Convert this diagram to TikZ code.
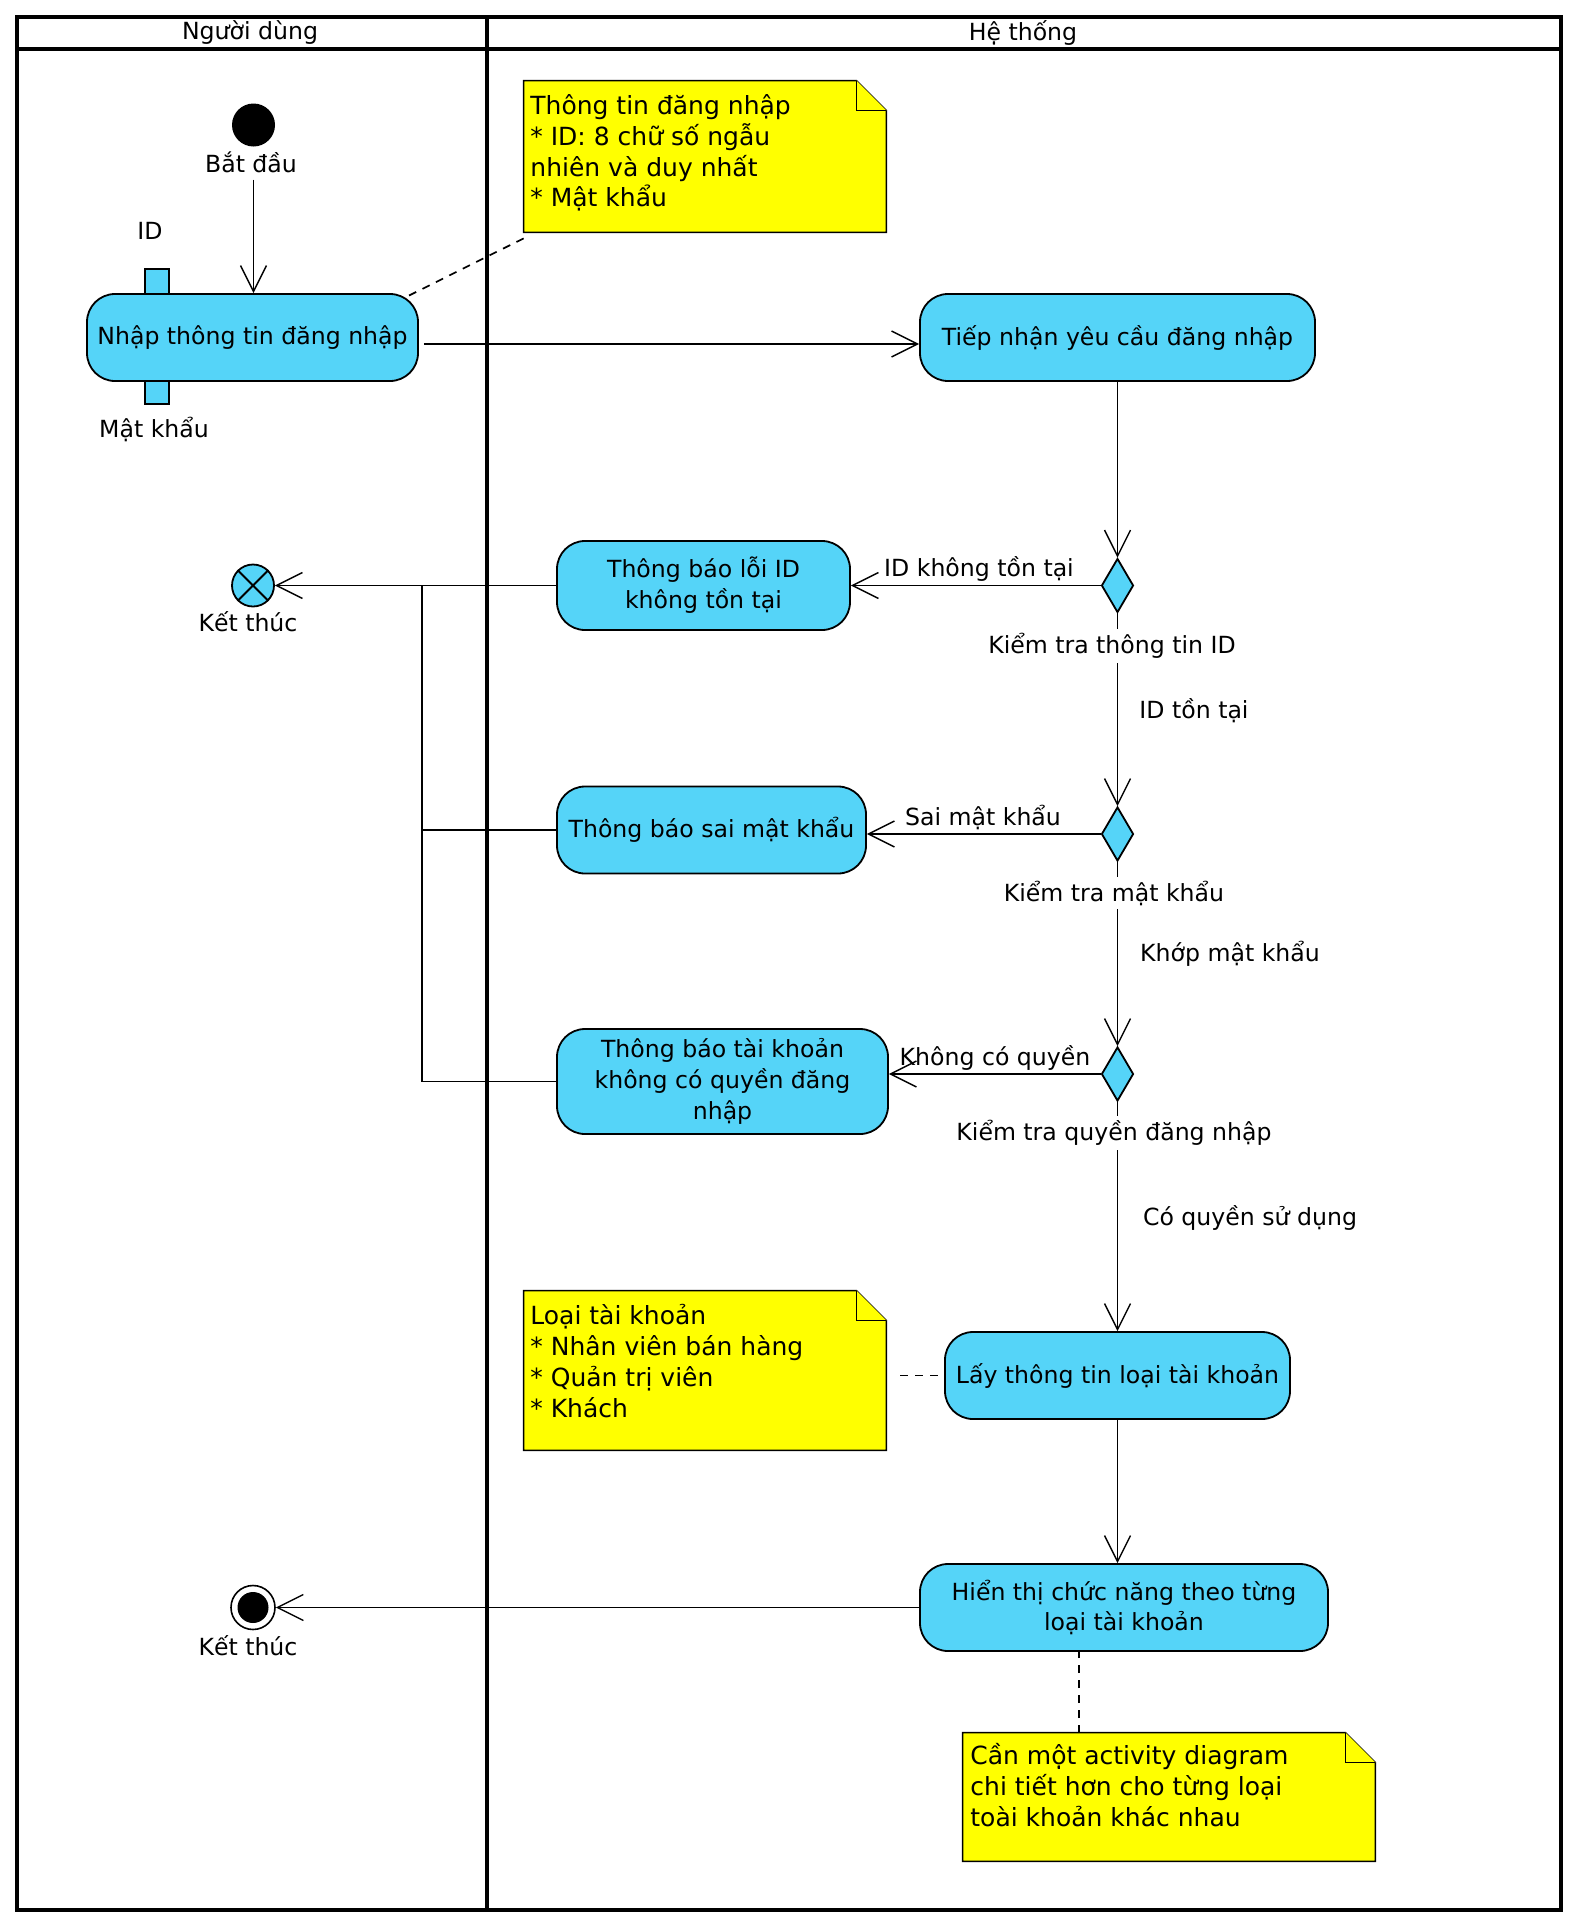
\documentclass[tikz,border=0pt]{standalone}
\usepackage{fontspec}
\setmainfont{DejaVu Sans}
\usetikzlibrary{arrows.meta,shapes.geometric,calc}
\definecolor{actblue}{RGB}{85,212,248}
\definecolor{noteyellow}{RGB}{255,255,0}
% outline of a UML note with a folded top-right corner, drawn around a named box node
\newcommand{\umlnotefold}[1]{%
  \filldraw[notepaper] (#1.north west) -- ($(#1.north east)+(-30,0)$) -- ($(#1.north east)+(0,30)$)
     -- (#1.south east) -- (#1.south west) -- cycle;
  \draw[notepaper] ($(#1.north east)+(-30,0)$) -- ++(0,30) -- ++(30,0);
}
\begin{document}
\begin{tikzpicture}[x=0.5pt,y=-0.5pt,
  every node/.style={font=\fontsize{11.8}{15.4}\selectfont},
  action/.style={draw, line width=0.9pt, fill=actblue, rounded corners=14pt, align=center,
                 inner sep=0pt, minimum height=43.5pt},
  decision/.style={diamond, draw, line width=0.9pt, fill=actblue, minimum width=16pt,
                   minimum height=27pt, inner sep=0pt},
  pinbox/.style={draw, line width=0.9pt, fill=actblue, minimum width=12pt, minimum height=12.5pt, inner sep=0pt},
  startdot/.style={circle, fill=black, minimum size=21.5pt, inner sep=0pt},
  flowfinal/.style={circle, draw, line width=0.9pt, fill=actblue, minimum size=21pt, inner sep=0pt},
  finalring/.style={circle, draw, line width=0.8pt, fill=white, minimum size=22pt, inner sep=0pt},
  finalcore/.style={circle, fill=black, minimum size=15.5pt, inner sep=0pt},
  flow/.style={line width=0.7pt, -{Straight Barb[length=13pt,width=13pt,line width=0.7pt]}},
  link/.style={line width=0.7pt},
  notelink/.style={line width=0.85pt, dash pattern=on 4pt off 3.5pt},
  cond/.style={fill=white, inner sep=2pt},
  notebox/.style={draw=none, inner sep=0pt},
  notepaper/.style={draw=black, fill=noteyellow, line width=0.8pt},
  notetext/.style={font=\fontsize{12.5}{15.4}\selectfont, align=left, inner sep=0pt, anchor=north west},
  lane/.style={line width=2pt}
]
\path[use as bounding box] (0,0) rectangle (1578,1928);

% swimlane frame
\draw[lane] (17,17) rectangle (1561,1910);
\draw[lane] (17,49) -- (1561,49);
\draw[lane] (487,17) -- (487,1910);
\node (laneuser) at (250,33) {Người dùng};
\node (lanesys) at (1023,33) {Hệ thống};

% notes
\node[notebox, minimum width=181pt, minimum height=75.5pt] (n1) at (705,156.5) {};
\umlnotefold{n1}
\node[notetext] (n1text) at (530,94) {Thông tin đăng nhập\\* ID: 8 chữ số ngẫu\\nhiên và duy nhất\\* Mật khẩu};

\node[notebox, minimum width=181pt, minimum height=79.5pt] (n2) at (705,1370.5) {};
\umlnotefold{n2}
\node[notetext] (n2text) at (530,1304) {Loại tài khoản\\* Nhân viên bán hàng\\* Quản trị viên\\* Khách};

\node[notebox, minimum width=206pt, minimum height=64pt] (n3) at (1169,1797) {};
\umlnotefold{n3}
\node[notetext] (n3text) at (970,1743) {Cần một activity diagram\\chi tiết hơn cho từng loại\\toài khoản khác nhau};

% user lane
\node[startdot] (start) at (253.5,125) {};
\node (startlbl) at (251,162) {Bắt đầu};
\node[pinbox] (pinid) at (157,281.5) {};
\node[pinbox, minimum height=11.5pt] (pinpw) at (157,392.5) {};
\node[action, minimum width=165.5pt] (enter) at (252.5,337.5) {Nhập thông tin đăng nhập};
\node (pinidlbl) at (150,231) {ID};
\node (pinpwlbl) at (154,429) {Mật khẩu};

\node[flowfinal] (ff) at (253,585.5) {};
\draw[line width=0.9pt] (ff.north west) -- (ff.south east) (ff.north east) -- (ff.south west);
\node (fflbl) at (248,622) {Kết thúc};

\node[finalring] (fin) at (253,1607.5) {};
\node[finalcore] (fincore) at (fin) {};
\node (finlbl) at (248,1646) {Kết thúc};

% system lane
\node[action, minimum width=197.5pt] (recv) at (1117.5,337.5) {Tiếp nhận yêu cầu đăng nhập};
\node[decision] (d1) at (1117.5,585.5) {};
\node[action, minimum width=146.5pt, minimum height=44.5pt] (e1) at (703.5,585.5) {Thông báo lỗi ID\\không tồn tại};
\node[decision] (d2) at (1117.5,834) {};
\node[action, minimum width=154.5pt] (e2) at (711.5,830) {Thông báo sai mật khẩu};
\node[decision] (d3) at (1117.5,1074) {};
\node[action, minimum width=165.5pt, minimum height=52.5pt] (e3) at (722.5,1081.5) {Thông báo tài khoản\\không có quyền đăng\\nhập};
\node[action, minimum width=172.5pt] (get) at (1117.5,1375.5) {Lấy thông tin loại tài khoản};
\node[action, minimum width=204pt] (show) at (1124,1607.5) {Hiển thị chức năng theo từng\\loại tài khoản};

% control flows
\draw[flow] (start |- startlbl.south) -- (start |- enter.north);
\draw[flow] ($(enter.east)+(5,6.5)$) -- ($(recv.west)+(0,6.5)$);
\draw[flow] (recv.south) -- (d1.north);
\draw[flow] (d1.south) -- (d2.north);
\draw[flow] (d2.south) -- (d3.north);
\draw[flow] (d3.south) -- (get.north);
\draw[flow] (get.south) -- (get.south |- show.north);
\draw[flow] (d1.west) -- (d1.west -| e1.east);
\draw[flow] (d2.west) -- (d2.west -| e2.east);
\draw[flow] (d3.west) -- (d3.west -| e3.east);
\coordinate (merge) at (422,585.5);
\draw[flow] (e1.west) -- (ff.east);
\draw[link] (e2.west) -| (merge);
\draw[link] (e3.west) -| (merge);
\draw[flow] (show.west) -- (fin.east);

% note anchors
\draw[notelink] ($(n1.south west)+(0,6)$) -- ($(enter.north east)+(-13,4)$);
\coordinate (n2tip) at (900,1375.5);
\draw[notelink] (n2tip) -- (get.west);
\coordinate (n3tip) at (1079,1733);
\draw[notelink] (n3tip) -- (n3tip |- show.south);

% guards and decision names
\node (g1) at (979,569) {ID không tồn tại};
\node (g2) at (983,817) {Sai mật khẩu};
\node (g3) at (995,1058) {Không có quyền};
\node (g4) at (1194,711) {ID tồn tại};
\node (g5) at (1230,954) {Khớp mật khẩu};
\node (g6) at (1250,1218) {Có quyền sử dụng};
\node[cond] (c1) at (1112,646) {Kiểm tra thông tin ID};
\node[cond] (c2) at (1114,893) {Kiểm tra mật khẩu};
\node[cond] (c3) at (1114,1133) {Kiểm tra quyền đăng nhập};
\end{tikzpicture}
\end{document}
